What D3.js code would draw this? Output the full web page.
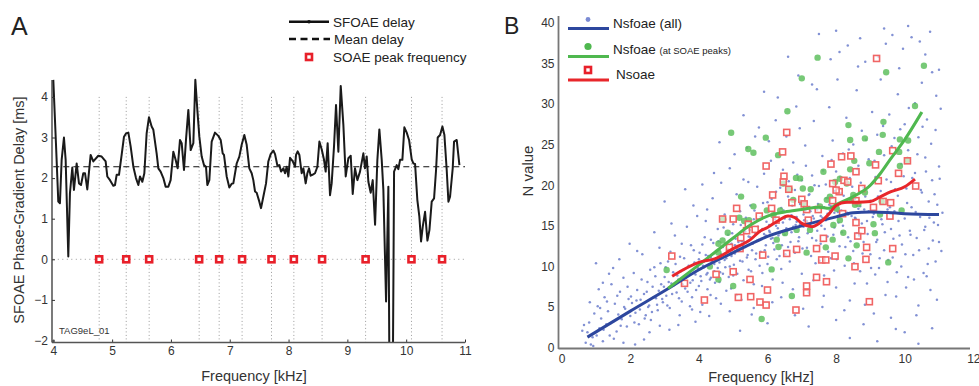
<!DOCTYPE html>
<html><head><meta charset="utf-8">
<script src="https://cdn.jsdelivr.net/npm/d3@7"></script>
<style>body{margin:0;background:#fff}svg{display:block;font-family:"Liberation Sans",Arial,sans-serif}</style>
</head><body><svg id="c" width="979" height="386"></svg>
<script>
// ---------- Panel A data ----------
const sfoaeFreq = [4.000,4.045,4.085,4.113,4.142,4.181,4.210,4.255,4.283,4.323,4.351,4.397,4.437,4.471,4.510,4.539,4.578,4.635,4.680,4.765,4.822,4.890,4.918,4.964,5.020,5.049,5.077,5.117,5.162,5.202,5.236,5.276,5.315,5.361,5.406,5.446,5.474,5.514,5.548,5.587,5.627,5.672,5.701,5.757,5.786,5.825,5.871,5.910,5.956,5.995,6.041,6.080,6.114,6.154,6.183,6.222,6.256,6.296,6.336,6.381,6.415,6.449,6.483,6.523,6.562,6.596,6.619,6.653,6.693,6.749,6.806,6.846,6.880,6.902,6.948,6.993,7.033,7.061,7.118,7.163,7.203,7.248,7.288,7.333,7.373,7.401,7.430,7.458,7.503,7.532,7.571,7.617,7.656,7.696,7.741,7.770,7.810,7.844,7.872,7.912,7.940,7.968,7.997,8.025,8.070,8.110,8.127,8.155,8.184,8.223,8.252,8.291,8.320,8.348,8.376,8.405,8.450,8.490,8.524,8.563,8.603,8.631,8.665,8.705,8.733,8.773,8.807,8.847,8.887,8.932,8.972,9.017,9.057,9.091,9.130,9.170,9.215,9.272,9.300,9.329,9.357,9.397,9.431,9.471,9.510,9.544,9.584,9.612,9.658,9.697,9.743,9.794,9.839,9.867,9.896,9.935,9.969,10.009,10.049,10.094,10.122,10.151,10.190,10.224,10.253,10.281,10.321,10.361,10.395,10.434,10.474,10.508,10.536,10.576,10.616,10.650,10.689,10.718,10.746,10.791,10.814,10.859,10.905];
const sfoaeDelay = [4.42,2.86,1.42,1.38,2.45,3.0,2.45,0.07,1.63,2.26,1.71,2.36,1.87,1.83,2.12,2.12,1.72,2.57,2.41,2.55,2.53,2.41,2.04,1.95,1.81,1.83,2.08,2.08,2.57,3.02,3.1,3.12,2.78,2.28,2.0,1.83,2.04,1.91,2.12,3.1,3.5,3.27,3.19,2.61,2.24,2.16,2.0,1.79,1.79,1.95,2.65,2.45,2.24,2.94,2.86,2.2,2.94,3.68,2.69,2.86,4.42,3.68,3.02,2.53,2.32,2.28,1.83,1.95,2.9,3.12,3.04,2.94,2.61,2.57,2.04,1.77,1.86,1.87,2.36,2.53,2.82,3.06,2.82,2.24,2.12,1.95,1.67,1.64,1.42,1.26,1.54,1.87,2.41,2.59,2.68,2.59,2.31,2.32,2.16,2.24,2.12,2.28,2.04,2.5,2.42,2.28,2.57,2.66,2.57,2.12,2.24,1.87,2.12,2.24,2.06,2.08,2.12,2.28,2.9,2.71,2.45,2.16,2.86,1.58,1.87,2.78,3.8,2.65,4.27,3.31,2.04,2.49,2.55,1.61,2.24,1.95,2.16,2.61,2.24,2.53,1.91,1.64,1.95,0.85,2.45,3.2,2.45,1.71,-1.04,1.79,-10,2.16,2.32,2.22,2.45,2.45,3.25,3.12,2.94,2.46,2.36,2.35,1.46,1.05,0.44,0.8,1.17,0.46,0.72,1.42,1.5,2.2,3.0,3.06,3.27,3.06,2.2,1.42,1.54,2.24,2.9,2.94,2.32];
const meanDelay = 2.28;
const soaePeakFreq = [4.78,5.24,5.63,6.48,6.82,7.21,7.71,8.09,8.57,9.31,10.09,10.61];
const xTicksA = [4,5,6,7,8,9,10,11];
const yTicksA = [-2,-1,0,1,2,3,4];

// ---------- Panel B data ----------
const nsfoaeAll = [[0.6,2.1],[0.7,0.6],[0.8,3.1],[0.9,1.3],[0.95,4.2],[0.75,1.9],[0.85,0.4],[0.65,2.8],[1.0,10.4],[1.05,5.1],[1.1,2.4],[1.15,3.6],[1.2,0.8],[1.25,6.2],[1.3,2.9],[1.35,4.5],[1.4,1.5],[1.45,7.8],[1.5,3.2],[1.55,5.4],[1.6,2.0],[1.65,4.1],[1.7,6.9],[1.75,3.5],[1.8,8.6],[1.85,4.8],[1.9,2.6],[1.95,6.0],[2.0,3.9],[2.05,5.5],[2.1,9.2],[2.15,4.3],[2.2,7.1],[2.25,2.9],[2.3,5.9],[2.35,11.5],[2.4,6.6],[2.45,4.0],[2.5,8.1],[2.55,5.2],[2.6,3.4],[2.65,7.5],[2.7,9.9],[2.75,6.1],[2.8,4.6],[2.85,12.3],[2.9,7.8],[2.95,5.6],[3.0,8.7],[3.0,18.0],[3.05,6.4],[3.1,10.6],[3.15,4.9],[3.2,7.9],[3.25,9.3],[3.3,13.8],[3.35,6.8],[3.4,8.4],[3.45,11.2],[3.5,5.7],[3.55,9.6],[3.6,7.3],[3.65,14.9],[3.7,10.1],[3.75,8.0],[3.8,6.2],[3.85,12.0],[3.9,9.0],[3.95,16.2],[4.0,7.6],[4.0,10.9],[4.05,8.8],[4.1,12.7],[4.1,5.3],[4.15,9.9],[4.2,15.6],[4.2,11.4],[4.25,7.2],[4.3,10.2],[4.35,13.3],[4.35,8.6],[4.4,18.4],[4.45,9.4],[4.5,11.9],[4.5,6.1],[4.55,14.6],[4.6,10.5],[4.6,8.1],[4.65,20.3],[4.7,12.4],[4.7,9.1],[4.75,16.4],[4.8,11.0],[4.8,7.0],[4.85,13.9],[4.9,10.0],[4.9,22.1],[4.95,12.8],[5.0,8.9],[5.0,15.2],[5.05,11.6],[5.1,18.9],[5.1,6.5],[5.15,13.0],[5.2,10.7],[5.2,16.8],[5.25,12.2],[5.3,8.3],[5.3,20.7],[5.35,14.3],[5.4,11.1],[5.4,24.6],[5.45,9.6],[5.5,13.6],[5.5,17.5],[5.55,12.0],[5.6,7.8],[5.6,15.8],[5.65,10.9],[5.7,19.8],[5.7,13.2],[5.75,27.1],[5.8,11.8],[5.8,16.1],[5.85,9.2],[5.9,14.0],[5.9,21.4],[5.95,12.6],[6.0,17.9],[6.0,10.3],[6.05,15.1],[6.1,13.4],[6.1,23.0],[6.15,8.4],[6.2,16.6],[6.2,12.1],[6.25,19.2],[6.3,14.7],[6.3,30.8],[6.35,11.3],[6.4,17.2],[6.4,9.7],[6.45,21.9],[6.5,13.9],[6.5,15.9],[6.55,26.0],[6.6,12.4],[6.6,18.6],[6.65,10.6],[6.7,16.3],[6.7,14.2],[6.75,22.8],[6.8,19.4],[6.8,11.7],[6.85,15.5],[6.9,33.5],[6.9,13.1],[6.95,17.7],[7.0,20.6],[7.0,9.1],[7.05,14.9],[7.1,24.9],[7.1,16.9],[7.15,12.3],[7.2,18.8],[7.2,6.8],[7.25,15.3],[7.3,21.2],[7.3,13.5],[7.35,27.9],[7.4,10.4],[7.4,17.1],[7.45,14.4],[7.5,38.6],[7.5,19.9],[7.55,12.8],[7.6,16.0],[7.6,23.6],[7.65,8.9],[7.7,15.7],[7.7,20.1],[7.75,13.7],[7.8,29.6],[7.8,17.6],[7.85,11.0],[7.9,18.5],[7.9,25.5],[7.95,14.8],[8.0,21.7],[8.0,7.4],[8.05,16.7],[8.1,12.5],[8.1,36.4],[8.15,19.0],[8.2,23.9],[8.2,15.0],[8.25,10.1],[8.3,17.9],[8.3,28.3],[8.35,13.6],[8.4,20.9],[8.4,5.8],[8.45,16.2],[8.5,25.0],[8.5,11.9],[8.55,18.3],[8.6,31.7],[8.6,14.1],[8.65,22.4],[8.7,9.4],[8.7,17.4],[8.75,26.7],[8.8,13.0],[8.8,19.7],[8.85,35.2],[8.9,15.6],[8.9,7.9],[8.95,23.2],[9.0,11.5],[9.0,18.1],[9.05,29.0],[9.1,16.5],[9.1,4.2],[9.15,21.0],[9.2,13.3],[9.2,26.2],[9.25,9.8],[9.3,19.3],[9.3,33.0],[9.35,15.2],[9.4,23.7],[9.4,12.0],[9.45,37.4],[9.5,17.0],[9.5,8.1],[9.55,28.7],[9.6,14.6],[9.6,20.4],[9.65,11.1],[9.7,25.8],[9.7,16.8],[9.75,6.3],[9.8,31.2],[9.8,18.7],[9.85,13.8],[9.9,22.6],[9.9,10.0],[9.95,36.8],[10.0,15.9],[10.0,27.5],[10.05,19.6],[10.1,8.7],[10.1,24.3],[10.15,14.4],[10.2,38.2],[10.2,17.3],[10.25,11.4],[10.3,30.1],[10.3,21.5],[10.35,13.5],[10.4,5.2],[10.4,25.9],[10.45,16.1],[10.5,32.6],[10.5,19.1],[10.55,9.2],[10.6,23.4],[10.6,14.9],[10.65,28.1],[10.7,12.2],[10.7,18.0],[10.75,7.1],[10.8,20.6],[10.8,33.9],[10.85,15.4],[10.9,26.8],[10.9,10.6],[10.95,17.6],[11.0,22.3],[11.0,13.0],[11.05,29.4],[11.1,16.6],
[4.05,9.7],[4.15,10.6],[4.25,9.2],[4.35,11.1],[4.45,10.3],[4.55,9.8],[4.65,11.5],[4.75,10.8],[4.85,12.1],[4.95,11.3],[5.05,12.6],[5.15,11.9],[5.25,13.1],[5.35,12.4],[5.45,13.7],[5.55,12.9],[5.65,14.1],[5.75,13.3],[5.85,14.6],[5.95,13.8],[6.05,14.4],[6.15,13.5],[6.25,15.0],[6.35,14.1],[6.45,15.4],[6.55,14.7],[6.65,15.8],[6.75,14.9],[6.85,16.1],[6.95,15.2],[7.05,16.4],[7.15,15.6],[7.25,16.8],[7.35,15.9],[7.45,17.0],[7.55,16.2],[7.65,17.3],[7.75,16.5],[7.85,17.4],[7.95,16.6],[8.05,17.6],[8.15,16.9],[8.25,17.9],[8.35,16.4],[8.45,18.2],[8.55,16.0],[8.65,17.1],[8.75,15.3],[8.85,18.6],[8.95,16.8],
[3.5,12.8],[3.8,4.7],[4.3,3.9],[4.9,4.5],[5.2,2.1],[5.6,4.9],[6.0,3.0],[6.4,6.2],[6.8,4.0],[7.2,2.6],[7.6,5.0],[8.0,3.4],[8.4,1.2],[8.8,2.9],[9.2,0.8],[9.6,3.7],[10.0,1.9],[10.4,0.5],[10.8,2.4],[4.1,20.1],[4.6,25.3],[5.3,28.6],[5.9,31.5],[6.6,35.8],[7.3,32.4],[8.0,39.0],[8.7,38.1],[9.4,39.3],[10.1,39.6],[10.6,36.1],[11.0,34.2],[3.2,15.3],[3.6,19.5],[2.2,11.9],[1.5,9.8],[2.7,14.2],[1.2,8.0],[2.4,1.0],[1.8,0.6],[3.4,2.8],[3.9,3.2],
[2.02,6.3],[2.12,3.1],[2.18,5.8],[2.28,4.7],[2.33,8.4],[2.42,3.6],[2.48,6.9],[2.52,5.0],[2.58,9.6],[2.63,4.4],[2.68,6.2],[2.73,8.8],[2.78,5.3],[2.83,7.0],[2.88,10.4],[2.93,6.0],[2.98,7.5],[3.03,9.9],[3.08,5.2],[3.12,8.1],[3.17,11.8],[3.22,6.6],[3.27,7.7],[3.32,10.3],[3.37,8.9],[3.42,6.1],[3.47,9.4],[3.52,7.8],[3.57,11.0],[3.62,8.6],[3.67,6.9],[3.72,9.2],[3.77,12.6],[3.82,8.3],[3.87,10.5],[3.92,7.1],[3.97,9.8],[4.02,11.7],[4.07,8.2],[4.12,10.1],[4.17,13.6],[4.22,9.0],[4.27,11.3],[4.32,8.4],[4.37,10.7],[4.42,12.9],[4.47,8.0],[4.52,10.9],[4.57,13.1],[4.62,9.3],[4.67,11.0],[4.72,14.8],[4.77,9.9],[4.82,12.7],[4.87,8.7],[4.92,11.8],[4.97,14.1],[5.02,10.2],[5.07,13.4],[5.12,9.1],[5.17,12.3],[5.22,15.1],[5.27,10.6],[5.32,13.0],[5.37,16.0],[5.42,11.4],[5.47,14.5],[5.52,9.4],[5.57,12.8],[5.62,16.9],[5.67,11.6],[5.72,14.9],[5.77,10.1],[5.82,13.4],[5.87,17.8],[5.92,12.0],[5.97,15.5],[6.02,11.2],[6.07,14.2],[6.12,18.3],[6.17,12.9],[6.22,15.8],[6.27,10.9],[6.32,13.8],[6.37,19.7],[6.42,12.6],[6.47,16.9],[6.52,11.5],[6.57,14.3],[6.62,20.5],[6.67,13.0],[6.72,17.5],[6.77,11.9],[6.82,15.1],[6.87,21.3],[6.92,13.6],[6.97,18.1],[7.02,12.2],[7.07,15.7],[7.12,22.4],[7.17,14.1],[7.22,18.9],[7.27,11.3],[7.32,16.2],[7.37,20.0],[7.42,13.2],[7.47,17.7],[7.52,10.7],[7.57,15.0],[7.62,21.8],[7.67,14.6],[7.72,18.4],[7.77,11.8],[7.82,16.9],[7.87,23.1],[7.92,13.9],[7.97,19.3],[8.02,10.9],[8.07,15.4],[8.12,21.0],[8.17,14.2],[8.22,18.7],[8.27,12.4],[8.32,16.6],[8.37,24.4],[8.42,13.1],[8.47,19.8],[8.52,10.4],[8.57,15.9],[8.62,22.0],[8.67,13.8],[8.72,20.3],[8.77,11.6],[8.82,17.0],[8.87,25.6],[8.92,14.0],[8.97,19.9],[9.02,9.8],[9.07,16.1],[9.12,23.0],[9.17,13.0],[9.22,18.6],[9.27,11.0],[9.32,15.8],[9.37,27.3],[9.42,14.2],[9.47,20.7],[9.52,10.8],[9.57,17.3],[9.62,24.8],[9.67,13.4],[9.72,19.5],[9.77,9.3],[9.82,15.6],[9.87,26.9],[9.92,12.7],[9.97,21.1],[10.02,11.5],[10.07,17.8],[10.12,29.5],[10.17,13.9],[10.22,20.9],[10.27,8.4],[10.32,16.7],[10.37,23.8],[10.42,12.0],[10.47,19.4],[10.52,27.2],[10.57,14.5],[10.62,21.7],[10.67,10.3],[10.72,16.0],[10.77,25.1],[10.82,13.2],[10.87,18.9],[10.92,31.0],[10.97,15.1],[11.02,20.8],[11.07,11.9],
[1.02,1.5],[1.12,4.9],[1.22,2.2],[1.32,5.7],[1.42,3.0],[1.52,1.1],[1.62,6.4],[1.72,2.7],[1.82,5.0],[1.92,7.5],[0.82,5.6],[0.92,0.2],[1.08,7.2],[1.38,9.1],[1.68,10.9],[1.98,12.8],[2.14,0.4],[2.56,1.9],[2.86,2.7],[3.14,2.2],[3.44,4.0],[3.74,5.1],[4.04,4.4],[4.34,6.5],[4.64,5.4],[4.94,7.3],[5.24,5.9],[5.54,4.1],[5.84,7.6],[6.14,5.6],[6.44,8.0],[6.74,7.2],[7.04,4.8],[7.34,8.3],[7.64,6.4],[7.94,9.5],[8.24,4.6],[8.54,7.9],[8.84,5.3],[9.14,9.0],[9.44,6.5],[9.74,2.3],[10.04,7.4],[10.34,4.0],[10.64,8.8],[10.94,5.9],
[3.84,17.5],[4.44,21.5],[5.04,23.8],[5.64,26.0],[6.24,28.0],[6.84,29.7],[7.44,31.8],[8.04,33.0],[8.64,34.6],[9.24,35.8],[9.84,34.4],[10.44,37.7],[5.44,20.4],[6.04,25.4],[6.94,27.0],[7.84,35.5],[8.34,37.2],[9.64,38.5],[10.74,38.9],[4.24,17.0]];
const nsfoaePeaks = [[3.06,9.56],[4.94,26.46],[5.44,24.45],[5.59,24.0],[5.95,25.85],[6.31,23.7],[6.58,29.1],[7.0,33.15],[7.46,35.7],[8.36,27.4],[8.41,25.56],[8.84,25.76],[9.38,27.8],[9.36,26.2],[9.46,33.9],[10.3,29.74],[10.56,34.7],[9.86,25.64],[9.84,24.1],[10.08,23.1],[9.86,22.36],[9.25,24.1],[8.97,22.7],[8.53,23.0],[8.41,21.95],[7.63,21.66],[6.95,20.84],[6.83,20.9],[6.46,20.2],[6.64,19.5],[7.03,19.6],[7.26,19.5],[5.23,18.6],[5.59,17.4],[5.46,15.7],[5.32,15.6],[5.18,16.0],[4.71,15.8],[4.84,14.15],[4.69,13.2],[4.57,11.7],[4.57,8.4],[5.0,7.6],[6.12,9.64],[5.83,3.53],[6.71,6.36],[7.14,11.7],[7.7,12.35],[8.36,11.0],[8.6,12.6],[9.09,15.2],[9.52,10.5],[9.28,16.4],[8.21,14.15],[7.9,13.3],[7.24,14.5],[6.85,14.5],[6.51,14.1],[6.32,12.4],[6.27,13.3],[7.92,15.1],[8.11,15.7],[7.82,18.6],[7.97,20.4],[8.11,20.8],[8.31,20.2],[8.45,18.2],[8.65,17.7],[8.84,19.1],[9.33,18.0],[8.55,17.6],[7.73,18.2],[7.53,17.4],[7.05,17.8],[6.75,18.2],[5.98,16.9],[6.17,16.3],[6.37,16.9],[4.32,10.0],[9.91,16.9],[9.13,14.1],[8.02,17.1],[8.5,18.8],[10.1,25.5],[4.57,12.8]];
const nsoae = [[3.21,11.28],[3.58,7.92],[4.16,5.87],[4.5,9.03],[4.89,12.35],[5.0,9.35],[5.15,6.19],[4.69,15.84],[5.0,15.84],[5.1,17.15],[5.22,13.54],[5.2,12.2],[5.39,14.4],[5.44,15.2],[5.49,8.4],[5.51,6.28],[5.64,14.56],[5.78,5.62],[5.96,5.25],[6.0,7.1],[5.86,11.4],[5.76,16.2],[5.96,22.36],[6.15,18.8],[6.12,17.15],[6.25,15.7],[6.44,24.1],[6.48,21.1],[6.46,20.4],[6.56,26.5],[6.62,19.5],[6.56,11.6],[6.71,17.85],[6.85,12.1],[6.83,4.64],[7.0,18.26],[7.07,17.7],[7.14,17.0],[7.19,15.7],[7.14,7.6],[7.14,6.77],[7.43,8.66],[7.43,12.2],[7.58,10.8],[7.7,10.8],[7.72,8.12],[7.48,17.0],[7.63,13.46],[7.85,22.6],[7.9,20.2],[7.9,18.1],[7.97,11.28],[8.09,19.2],[8.16,23.5],[8.19,16.5],[8.23,20.6],[8.34,20.4],[8.43,23.6],[8.58,21.66],[8.58,18.1],[8.58,15.4],[8.63,13.74],[8.75,14.4],[8.55,9.97],[8.87,10.87],[8.89,12.35],[8.97,5.66],[8.75,19.6],[9.15,22.5],[9.23,20.55],[9.18,35.6],[9.09,17.27],[9.59,17.85],[9.65,24.25],[9.65,12.2],[9.82,21.46],[9.57,16.2],[10.08,23.0],[10.32,19.9],[9.37,18.0],[8.0,19.4]];
const trendAll = [[0.75,1.3],[2,4.5],[3,7.0],[4,9.6],[5,11.7],[6,13.7],[7,15.0],[8,16.1],[8.5,16.6],[9,16.7],[9.5,16.65],[10,16.5],[11,16.4]];
const trendPeaks = [[3.1,7.3],[4,10.2],[5,13.5],[5.5,15.1],[6,16.2],[6.5,16.7],[7,17.0],[7.5,17.3],[7.8,17.15],[8,17.6],[8.5,18.6],[9,20.0],[9.3,21.5],[9.6,23.3],[10,25.6],[10.5,29.0]];
const trendSoae = [[3.22,8.8],[4,10.5],[4.5,11.0],[5,12.2],[5.5,13.3],[5.8,14.4],[6,14.8],[6.3,15.6],[6.6,16.2],[6.8,16.0],[7.0,15.3],[7.3,14.9],[7.5,15.3],[7.8,16.5],[8,17.5],[8.3,17.9],[8.6,17.9],[9,18.0],[9.3,18.6],[9.6,19.2],[10,19.8],[10.3,20.75]];
const xTicksB = [0,2,4,6,8,10,12];
const yTicksB = [0,5,10,15,20,25,30,35,40];

const svg = d3.select("#c");
const minus = v => (v < 0 ? "\u2212" + Math.abs(v) : String(v));

// ================= Panel A =================
const xA = d3.scaleLinear().domain([4, 11]).range([53.3, 465]);
const yA = d3.scaleLinear().domain([-2, 4]).range([340.5, 96.9]);
const gA = svg.append("g");

gA.append("text").attr("x", 11).attr("y", 35).attr("font-size", 25).attr("fill", "#222").text("A");

gA.selectAll("line.vd").data(soaePeakFreq).join("line")
  .attr("x1", d => xA(d)).attr("x2", d => xA(d))
  .attr("y1", yA(4)).attr("y2", 342)
  .attr("stroke", "#9a9a9a").attr("stroke-width", 1).attr("stroke-dasharray", "1,2.5");
gA.append("line").attr("x1", xA(4)).attr("x2", xA(11)).attr("y1", yA(0)).attr("y2", yA(0))
  .attr("stroke", "#9a9a9a").attr("stroke-width", 1).attr("stroke-dasharray", "1,3.5");
gA.append("line").attr("x1", xA(4)).attr("x2", xA(11)).attr("y1", yA(meanDelay)).attr("y2", yA(meanDelay))
  .attr("stroke", "#111").attr("stroke-width", 1.2).attr("stroke-dasharray", "6,4");

svg.append("clipPath").attr("id", "clipA").append("rect").attr("x", 50).attr("y", 70).attr("width", 420).attr("height", 272);
gA.append("path").datum(sfoaeFreq.map((f, i) => [f, sfoaeDelay[i]]))
  .attr("clip-path", "url(#clipA)")
  .attr("d", d3.line().x(d => xA(d[0])).y(d => yA(d[1])))
  .attr("fill", "none").attr("stroke", "#1a1a1a").attr("stroke-width", 2).attr("stroke-linejoin", "round");

gA.selectAll("rect.sq").data(soaePeakFreq).join("rect")
  .attr("x", d => xA(d) - 3).attr("y", yA(0) - 3).attr("width", 6).attr("height", 6)
  .attr("fill", "#fff").attr("stroke", "#e8202a").attr("stroke-width", 2.6);

const axL = gA.append("g").attr("transform", "translate(52,0)")
  .call(d3.axisLeft(yA).tickValues(yTicksA).tickFormat(minus).tickSizeInner(-3).tickSizeOuter(0).tickPadding(4));
axL.select(".domain").remove();
axL.selectAll("line").attr("stroke", "#333");
axL.selectAll("text").attr("font-size", 12).attr("fill", "#333").attr("font-family", "Liberation Sans, Arial");
const axB = gA.append("g").attr("transform", "translate(0,342.5)")
  .call(d3.axisBottom(xA).tickValues(xTicksA).tickFormat(minus).tickSizeInner(-3).tickSizeOuter(0).tickPadding(4));
axB.select(".domain").remove();
axB.selectAll("line").attr("stroke", "#333");
axB.selectAll("text").attr("font-size", 12).attr("fill", "#333").attr("font-family", "Liberation Sans, Arial");
gA.append("line").attr("x1", 52).attr("x2", 52).attr("y1", 80).attr("y2", 342.5).attr("stroke", "#333").attr("stroke-width", 1.3);
gA.append("line").attr("x1", 52).attr("x2", 465).attr("y1", 342.5).attr("y2", 342.5).attr("stroke", "#555").attr("stroke-width", 1.3);

gA.append("text").attr("x", 59).attr("y", 333.5).attr("font-size", 9.5).attr("fill", "#333").text("TAG9eL_01");
gA.append("text").attr("x", 254).attr("y", 381).attr("text-anchor", "middle").attr("font-size", 14.5).attr("fill", "#333").text("Frequency [kHz]");
gA.append("text").attr("transform", "translate(24,210) rotate(-90)").attr("text-anchor", "middle")
  .attr("font-size", 14.5).attr("fill", "#333").text("SFOAE Phase-Gradient Delay [ms]");

gA.append("line").attr("x1", 289).attr("x2", 329).attr("y1", 21.7).attr("y2", 21.7).attr("stroke", "#111").attr("stroke-width", 2.5);
gA.append("circle").attr("cx", 309).attr("cy", 21.7).attr("r", 1.8).attr("fill", "#111");
gA.append("text").attr("x", 333).attr("y", 26.5).attr("font-size", 13.5).attr("fill", "#222").text("SFOAE delay");
gA.append("line").attr("x1", 289).attr("x2", 330).attr("y1", 39).attr("y2", 39).attr("stroke", "#111").attr("stroke-width", 2.5).attr("stroke-dasharray", "7,4.5");
gA.append("text").attr("x", 334).attr("y", 44).attr("font-size", 13.5).attr("fill", "#222").text("Mean delay");
gA.append("rect").attr("x", 306).attr("y", 54).attr("width", 6).attr("height", 6).attr("fill", "#fff").attr("stroke", "#e8202a").attr("stroke-width", 2.6);
gA.append("text").attr("x", 333).attr("y", 62).attr("font-size", 13.5).attr("fill", "#222").text("SOAE peak frequency");

// ================= Panel B =================
const xB = d3.scaleLinear().domain([0, 12]).range([561.7, 973.3]);
const yB = d3.scaleLinear().domain([0, 40]).range([347.7, 22.7]);
const gB = svg.append("g");
gB.append("text").attr("x", 504).attr("y", 34).attr("font-size", 23).attr("fill", "#222").text("B");

gB.selectAll("circle.all").data(nsfoaeAll).join("circle")
  .attr("cx", d => xB(d[0])).attr("cy", d => yB(d[1])).attr("r", 1.25)
  .attr("fill", "#7485cf").attr("opacity", 0.9);
gB.selectAll("circle.pk").data(nsfoaePeaks).join("circle")
  .attr("cx", d => xB(d[0])).attr("cy", d => yB(d[1])).attr("r", 3.2)
  .attr("fill", "#5fc05f").attr("opacity", 0.85);
gB.selectAll("rect.so").data(nsoae).join("rect")
  .attr("x", d => xB(d[0]) - 3).attr("y", d => yB(d[1]) - 3).attr("width", 6).attr("height", 6)
  .attr("fill", "#fff").attr("fill-opacity", 0.6).attr("stroke", "#f06565").attr("stroke-width", 1.6);

const lineB = d3.line().x(d => xB(d[0])).y(d => yB(d[1])).curve(d3.curveMonotoneX);
gB.append("path").datum(trendAll).attr("d", lineB).attr("fill", "none").attr("stroke", "#2d479e").attr("stroke-width", 3);
gB.append("path").datum(trendPeaks).attr("d", lineB).attr("fill", "none").attr("stroke", "#4fb84f").attr("stroke-width", 3);
gB.append("path").datum(trendSoae).attr("d", lineB).attr("fill", "none").attr("stroke", "#e8262b").attr("stroke-width", 3);

const byL = gB.append("g").attr("transform", "translate(558.5,0)")
  .call(d3.axisLeft(yB).tickValues(yTicksB).tickFormat(minus).tickSize(0).tickPadding(4));
byL.select(".domain").remove();
byL.selectAll("text").attr("font-size", 12).attr("fill", "#333").attr("font-family", "Liberation Sans, Arial");
const byB = gB.append("g").attr("transform", "translate(0,348.5)")
  .call(d3.axisBottom(xB).tickValues(xTicksB).tickFormat(minus).tickSize(0).tickPadding(6));
byB.select(".domain").remove();
byB.selectAll("text").attr("font-size", 12).attr("fill", "#333").attr("font-family", "Liberation Sans, Arial");
gB.append("line").attr("x1", 558.5).attr("x2", 558.5).attr("y1", 16).attr("y2", 349).attr("stroke", "#777").attr("stroke-width", 1.8);
gB.append("line").attr("x1", 558.5).attr("x2", 970).attr("y1", 348.5).attr("y2", 348.5).attr("stroke", "#777").attr("stroke-width", 1.8);

gB.append("text").attr("x", 761).attr("y", 382).attr("text-anchor", "middle").attr("font-size", 14.5).attr("fill", "#333").text("Frequency [kHz]");
gB.append("text").attr("transform", "translate(533,171) rotate(-90)").attr("text-anchor", "middle")
  .attr("font-size", 15).attr("fill", "#333").text("N value");

gB.append("circle").attr("cx", 588).attr("cy", 19.5).attr("r", 2.4).attr("fill", "#7b8bd4");
gB.append("line").attr("x1", 568).attr("x2", 609).attr("y1", 28.5).attr("y2", 28.5).attr("stroke", "#2d479e").attr("stroke-width", 3);
gB.append("text").attr("x", 613).attr("y", 28).attr("font-size", 13.5).attr("fill", "#222").text("Nsfoae (all)");
gB.append("circle").attr("cx", 588).attr("cy", 46.5).attr("r", 3.6).attr("fill", "#4fb84f");
gB.append("line").attr("x1", 568).attr("x2", 609).attr("y1", 56.5).attr("y2", 56.5).attr("stroke", "#4fb84f").attr("stroke-width", 3);
const tl = gB.append("text").attr("x", 613).attr("y", 53.5).attr("fill", "#222");
tl.append("tspan").attr("font-size", 13.5).text("Nsfoae ");
tl.append("tspan").attr("font-size", 9.5).text("(at SOAE peaks)");
gB.append("rect").attr("x", 585).attr("y", 67).attr("width", 6).attr("height", 6).attr("fill", "#fff").attr("stroke", "#e8202a").attr("stroke-width", 2.6);
gB.append("line").attr("x1", 568).attr("x2", 609).attr("y1", 80).attr("y2", 80).attr("stroke", "#e8262b").attr("stroke-width", 3);
gB.append("text").attr("x", 616).attr("y", 79).attr("font-size", 13.5).attr("fill", "#222").text("Nsoae");
</script></body></html>
